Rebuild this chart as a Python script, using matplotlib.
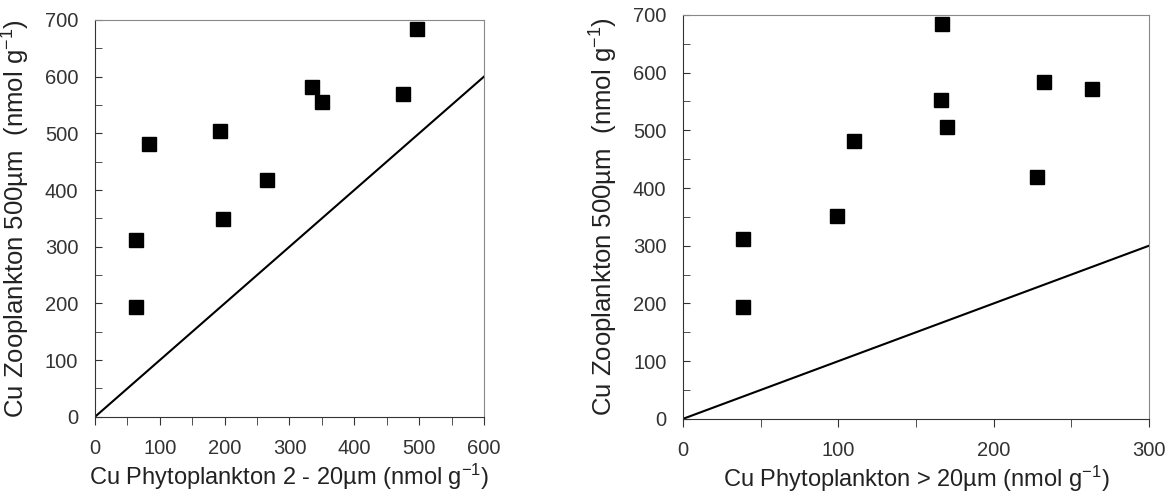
import numpy as np
import matplotlib
matplotlib.use('Agg')
import matplotlib.pyplot as plt

plt.rcParams['font.family'] = ['Liberation Sans', 'DejaVu Sans']
plt.rcParams['mathtext.default'] = 'regular'

# Cu in phytoplankton 2-20um vs zooplankton 500um
phyto_small = [63, 63, 83, 193, 198, 265, 335, 350, 475, 496]
zoo_small = [193, 312, 481, 504, 349, 418, 582, 555, 570, 684]

# Cu in phytoplankton >20um vs zooplankton 500um
phyto_large = [38.5, 38.5, 99, 110, 166.6, 166, 170, 227.6, 232.4, 263.4]
zoo_large = [193, 312, 352, 482, 685, 553, 505, 419, 584, 571]

ylabel = 'Cu Zooplankton 500\u00b5m  (nmol g$^{-1}$)'

fig = plt.figure(figsize=(11.71, 4.98), dpi=100)
ax1 = fig.add_axes([0.0811, 0.163, 0.3322, 0.797])
ax2 = fig.add_axes([0.5833, 0.159, 0.3979, 0.811])

def style(ax, xmax, xmajor, xminor):
    ax.set_xlim(0, xmax)
    ax.set_ylim(0, 700)
    ax.set_xticks(np.arange(0, xmax + 1, xmajor))
    ax.set_xticks(np.arange(0, xmax + 1, xminor), minor=True)
    ax.set_yticks(np.arange(0, 701, 100))
    ax.set_yticks(np.arange(0, 701, 50), minor=True)
    ax.tick_params(axis='x', which='both', direction='out', length=6,
                   labelsize=14.5, colors='#333333', pad=10)
    ax.tick_params(axis='y', which='both', direction='in', length=5,
                   labelsize=14.5, colors='#333333', pad=12)
    for s in ['top', 'right']:
        ax.spines[s].set_color('#888888')
    for s in ['left', 'bottom']:
        ax.spines[s].set_color('#333333')
    ax.set_ylabel(ylabel, fontsize=18.5, color='#222222', labelpad=9)

ax1.plot([0, 600], [0, 600], color='black', lw=1.5)
ax1.plot(phyto_small, zoo_small, 's', color='black', markersize=10)
style(ax1, 600, 100, 50)
ax1.set_xlabel('Cu Phytoplankton 2 - 20\u00b5m (nmol g$^{-1}$)', fontsize=17,
               color='#222222', labelpad=3)

ax2.plot([0, 300], [0, 300], color='black', lw=1.5)
ax2.plot(phyto_large, zoo_large, 's', color='black', markersize=10)
style(ax2, 300, 100, 50)
ax2.set_xlabel('Cu Phytoplankton > 20\u00b5m (nmol g$^{-1}$)', fontsize=17,
               color='#222222', labelpad=3)

fig.savefig('out.png', dpi=100)
